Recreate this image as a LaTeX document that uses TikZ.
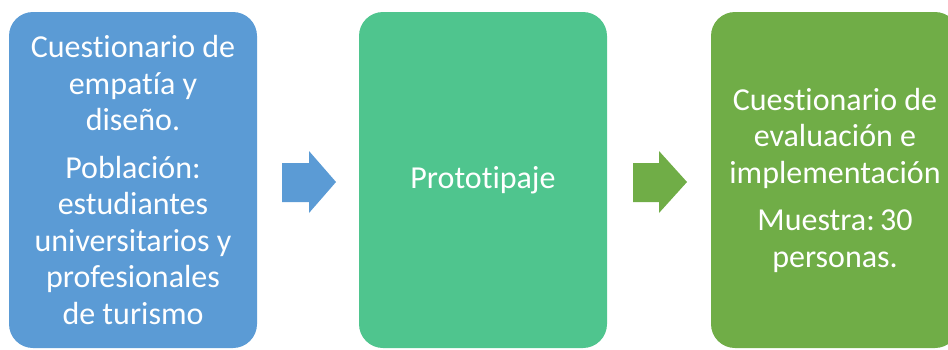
\documentclass[tikz,border=0pt]{standalone}
\usepackage{fontspec}
\setmainfont{Carlito}[RawFeature={-liga}]
\definecolor{cblue}{HTML}{5B9BD5}
\definecolor{cteal}{HTML}{4FC58E}
\definecolor{cgreen}{HTML}{70AD47}
\frenchspacing
\begin{document}
\begin{tikzpicture}[x=1pt,y=-1pt,
  box/.style={rounded corners=24pt, minimum width=248pt, minimum height=336pt, inner sep=0pt, text=white, align=center, font=\fontsize{32}{36.5}\selectfont},
  arr/.style={draw=none}]
\useasboundingbox (0,0) rectangle (948,349);
\node[box, fill=cblue] (b1) at (133,180) {Cuestionario de\\empatía y\\diseño.\\[11pt]Población:\\estudiantes\\universitarios y\\profesionales\\de turismo};
\node[box, fill=cteal] (b2) at (483,180) {Prototipaje};
\node[box, fill=cgreen] (b3) at (835,180) {Cuestionario de\\evaluación e\\implementación\\[11pt]Muestra:\,30\\personas.};
\fill[cblue] (282,163) -- (309,163) -- (309,151) -- (336,182) -- (309,213) -- (309,202) -- (282,202) -- cycle;
\fill[cgreen] (633,163) -- (659,163) -- (659,151) -- (687,182) -- (659,213) -- (659,202) -- (633,202) -- cycle;
\end{tikzpicture}
\end{document}
